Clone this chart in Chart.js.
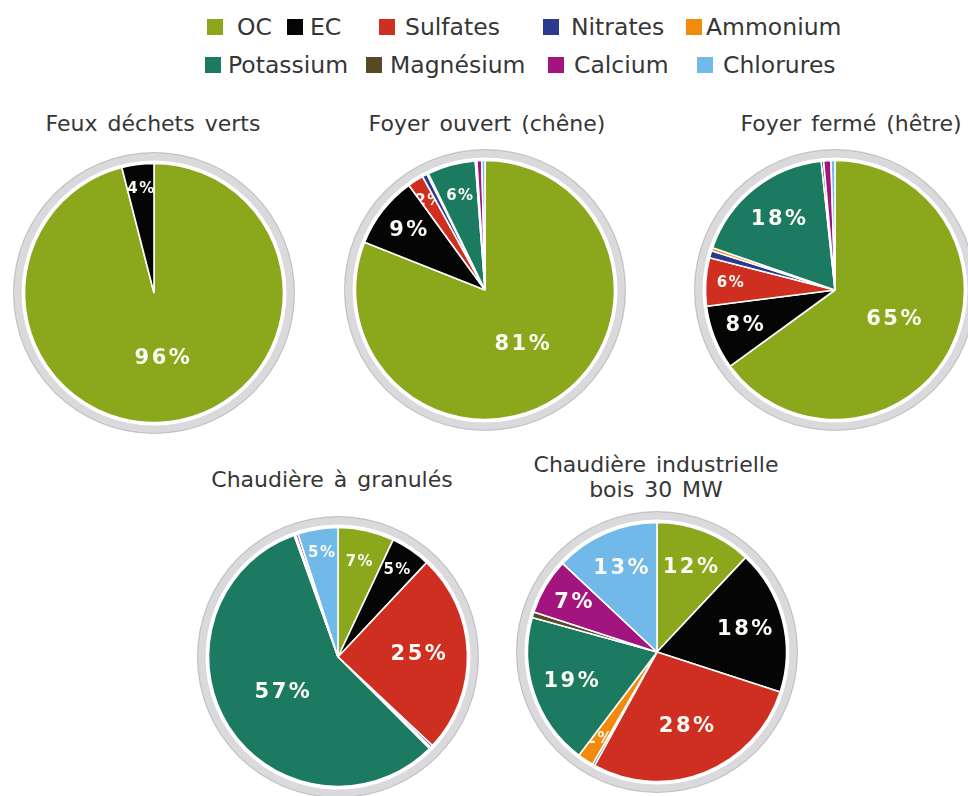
<!DOCTYPE html>
<html lang="fr">
<head>
<meta charset="utf-8">
<title>Composition des particules selon la source de combustion du bois</title>
<script src="https://cdn.jsdelivr.net/npm/chart.js@4.4.1/dist/chart.umd.min.js"></script>
<style>
  html, body { margin: 0; padding: 0; background: #fff; }
  body { width: 968px; height: 796px; overflow: hidden; position: relative;
         font-family: "DejaVu Sans", Verdana, sans-serif; color: #363636; }
  .pie { position: absolute; }
  .title { position: absolute; font-size: 22px; line-height: 25px; text-align: center;
           white-space: nowrap; transform: translateX(-50%); word-spacing: 3px; }
  .leg { position: absolute; display: flex; align-items: center; font-size: 23.5px;
         white-space: nowrap; transform: translateY(-50%); }
  .leg i { display: inline-block; width: 16px; height: 16px; margin-right: 7px; }
</style>
</head>
<body>
<div id="legend"></div>

<div class="title" style="left:153px; top:111px;">Feux déchets verts</div>
<div class="title" style="left:487px; top:111px;">Foyer ouvert (chêne)</div>
<div class="title" style="left:851px; top:111px;">Foyer fermé (hêtre)</div>
<div class="title" style="left:332px; top:467px;">Chaudière à granulés</div>
<div class="title" style="left:656px; top:452px;">Chaudière industrielle<br>bois 30 MW</div>

<canvas class="pie" id="p1" width="300" height="300"></canvas>
<canvas class="pie" id="p2" width="300" height="300"></canvas>
<canvas class="pie" id="p3" width="300" height="300"></canvas>
<canvas class="pie" id="p4" width="300" height="300"></canvas>
<canvas class="pie" id="p5" width="300" height="300"></canvas>

<script>
// Species of the particulate mass, in the order the slices run clockwise from 12 o'clock
const categories = ['OC', 'EC', 'Sulfates', 'Nitrates', 'Ammonium', 'Potassium', 'Magnésium', 'Calcium', 'Chlorures'];

// Share of each species (%), one list per combustion source
const feuxDechetsVerts      = [96, 4, 0, 0, 0, 0, 0, 0, 0];
const foyerOuvertChene      = [81, 9, 2, 0.6, 0.2, 6, 0.2, 0.6, 0.4];
const foyerFermeHetre       = [65, 8, 6, 0.9, 0.4, 18, 0.3, 0.9, 0.5];
const chaudiereGranules     = [7, 5, 25, 0.3, 0.2, 57, 0.2, 0.3, 5];
const chaudiereIndustrielle = [12, 18, 28, 0.3, 2, 19, 0.7, 7, 13];

const speciesColors = ['#8ba71b', '#050505', '#cf2f20', '#2b3a8e', '#f28a0c',
                       '#1b7a5f', '#5a4726', '#a3157e', '#70b9e8'];

// Legend, laid out in two rows
const legendLayout = [
  { i: 0, x: 207, y: 27 }, { i: 1, x: 287, y: 27 }, { i: 2, x: 379, y: 27 },
  { i: 3, x: 543, y: 27 }, { i: 4, x: 686, y: 27 },
  { i: 5, x: 205, y: 65 }, { i: 6, x: 366, y: 65 }, { i: 7, x: 548, y: 65 },
  { i: 8, x: 697, y: 65 }
];
const gaps = [14, 7, 10, 12, 4, 7, 8, 10, 10];
const legend = document.getElementById('legend');
legendLayout.forEach(({ i, x, y }) => {
  const d = document.createElement('div');
  d.className = 'leg';
  d.style.left = x + 'px';
  d.style.top = y + 'px';
  const sw = document.createElement('i');
  sw.style.background = speciesColors[i];
  sw.style.marginRight = gaps[i] + 'px';
  d.appendChild(sw);
  d.appendChild(document.createTextNode(categories[i]));
  legend.appendChild(d);
});

// Percentage labels, drawn inside each slice and clipped to it
const sliceLabels = {
  id: 'sliceLabels',
  afterDatasetsDraw(chart, args, opts) {
    const ds = chart.data.datasets[opts.datasetIndex];
    const meta = chart.getDatasetMeta(opts.datasetIndex);
    const total = ds.data.reduce((a, b) => a + b, 0);
    const ctx = chart.ctx;
    meta.data.forEach((arc, k) => {
      const pct = ds.data[k] / total * 100;
      if (pct < 1.5) return;
      const { x, y, startAngle, endAngle, outerRadius } =
        arc.getProps(['x', 'y', 'startAngle', 'endAngle', 'outerRadius'], true);
      const mid = (startAngle + endAngle) / 2;
      const f = pct >= 50 ? 0.51 : pct >= 20 ? 0.62 : pct >= 10 ? 0.7 : pct >= 6 ? 0.75 : 0.81;
      const r = outerRadius * f;
      const big = pct >= opts.bigFrom;
      ctx.save();
      ctx.beginPath();
      ctx.moveTo(x, y);
      ctx.arc(x, y, outerRadius, startAngle, endAngle);
      ctx.closePath();
      ctx.clip();
      ctx.font = 'bold ' + (big ? 21 : 15) + 'px "DejaVu Sans"';
      ctx.letterSpacing = big ? '2.5px' : '1.5px';
      ctx.fillStyle = '#fbfbf4';
      ctx.textAlign = 'center';
      ctx.textBaseline = 'middle';
      ctx.fillText(Math.round(pct) + '%', x + Math.cos(mid) * r + (big ? 1.2 : 0.7), y + Math.sin(mid) * r);
      ctx.restore();
    });
  }
};

function makePie(id, cx, cy, values, bigFrom) {
  const cv = document.getElementById(id);
  cv.style.left = (cx - 150) + 'px';
  cv.style.top = (cy - 150) + 'px';
  return new Chart(cv, {
    type: 'pie',
    data: {
      labels: categories,
      datasets: [
        // grey frame around the pie, then a white gap
        { data: [1], backgroundColor: ['#c2c2c7'], borderWidth: 0, weight: 1.5 },
        { data: [1], backgroundColor: ['#dadadd'], borderWidth: 0, weight: 7 },
        { data: [1], backgroundColor: ['#ffffff'], borderWidth: 0, weight: 3 },
        { data: values, backgroundColor: speciesColors, borderColor: '#ffffff',
          borderWidth: 1.6, weight: 129.5 }
      ]
    },
    options: {
      responsive: false,
      animation: false,
      radius: 141,
      layout: { padding: 0 },
      events: [],
      plugins: {
        legend: { display: false },
        tooltip: { enabled: false },
        sliceLabels: { datasetIndex: 3, bigFrom: bigFrom }
      }
    },
    plugins: [sliceLabels]
  });
}

makePie('p1', 153.5, 292.5, feuxDechetsVerts, 7);
makePie('p2', 485, 290, foyerOuvertChene, 7);
makePie('p3', 835, 290, foyerFermeHetre, 7);
makePie('p4', 337.5, 656.5, chaudiereGranules, 8);
makePie('p5', 657, 652, chaudiereIndustrielle, 7);
</script>
</body>
</html>
